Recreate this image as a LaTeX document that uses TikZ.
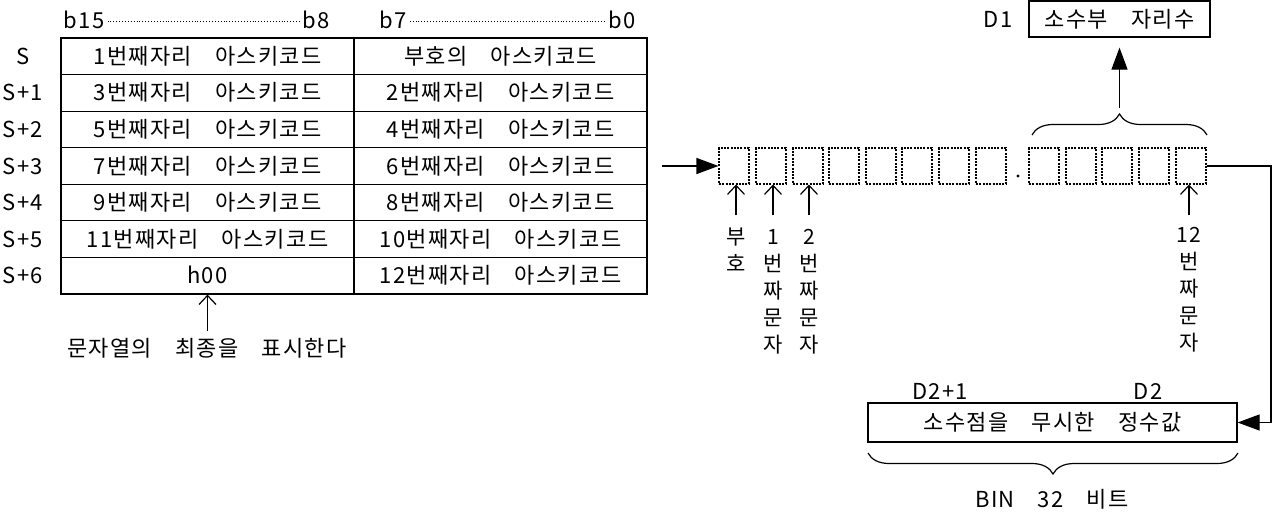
\documentclass[tikz,border=0pt]{standalone}
\usepackage{fontspec}
\setmainfont{Noto Sans CJK KR}[LetterSpace=6,WordSpace=3.7]
\usetikzlibrary{arrows.meta,decorations.pathreplacing}
\newcommand{\fsz}{\fontsize{22}{26}\selectfont}
\tikzset{
  cell/.style={draw, line width=1.2pt, minimum width=293pt, minimum height=36.57pt, inner sep=0pt, text height=17pt, text depth=1pt},
  dbox/.style={draw, dash pattern=on 2pt off 1.3pt, line width=1.1pt, minimum width=30pt, minimum height=36pt, inner sep=0pt},
  outbox/.style={draw, line width=1.2pt, inner sep=0pt, text height=17pt, text depth=1pt},
  big/.style={-{Triangle[length=22pt,width=16pt]}, line width=1.2pt},
  small/.style={-{Straight Barb[length=9pt,width=17pt]}, line width=1.2pt},
  lbl/.style={inner sep=0pt, anchor=base},
  vlbl/.style={align=center, inner sep=0pt, anchor=base, font=\fontsize{21}{27}\selectfont},
  dots/.style={line width=0.9pt, dash pattern=on 0.9pt off 2pt},
  brc/.style={decorate, line width=1.2pt, decoration={brace, amplitude=21pt}}
}
\begin{document}
\begin{tikzpicture}[x=1pt,y=-1pt, every node/.append style={font=\fsz}]
\useasboundingbox (0,0) rectangle (1274,512);
% header
\node[lbl] (hb15) at (84,28) {b15};
\node[lbl] (hb8) at (316,28) {b8};
\node[lbl] (hb7) at (393,28) {b7};
\node[lbl] (hb0) at (622,28) {b0};
\draw[dots] ([xshift=3pt]hb15.east |- 0,21) -- ([xshift=-3pt]hb8.west |- 0,21);
\draw[dots] ([xshift=3pt]hb7.east |- 0,21) -- ([xshift=-3pt]hb0.west |- 0,21);
% table
\foreach \i/\lt/\rt/\sl in {0/1번째자리 아스키코드/부호의 아스키코드/S,
  1/3번째자리 아스키코드/2번째자리 아스키코드/S+1,
  2/5번째자리 아스키코드/4번째자리 아스키코드/S+2,
  3/7번째자리 아스키코드/6번째자리 아스키코드/S+3,
  4/9번째자리 아스키코드/8번째자리 아스키코드/S+4,
  5/11번째자리 아스키코드/10번째자리 아스키코드/S+5,
  6/h00/12번째자리 아스키코드/S+6}{
  \node[cell] (l\i) at (207.5,{56.3+36.57*\i}) {\lt};
  \node[cell] (r\i) at (500.5,{56.3+36.57*\i}) {\rt};
  \node[lbl] (s\i) at (23,{64.3+36.57*\i}) {\sl};
}
\coordinate (endtip) at (207.5,331);
\draw[small] (endtip) -- (l6.south);
\node[lbl] (endtxt) at (207,356) {문자열의 최종을 표시한다};
% dotted boxes
\foreach \k/\x in {0/719,1/756,2/793,3/829,4/866,5/902,6/939,7/976,8/1029,9/1066,10/1102,11/1139,12/1176}{
  \node[dbox] (b\k) at ({\x+15},166) {};
}
\fill (1018,176) circle (1.7pt);
\coordinate (src) at (662,166);
\draw[big] (src) -- (b0.west);
% small arrows and labels
\foreach \k/\x in {0/736,1/773,2/809,12/1189}{
  \coordinate (a\k) at (\x,215);
  \draw[small] (a\k) -- (a\k |- b\k.south);
}
\node[vlbl] (t0) at (736,271) {부\\호};
\node[vlbl] (t1) at (773,352) {1\\번\\짜\\문\\자};
\node[vlbl] (t2) at (809,352) {2\\번\\짜\\문\\자};
\node[vlbl] (t12) at (1189,350) {12\\번\\짜\\문\\자};
% top brace and D1
\draw[brc] (1032,135) -- (1207,135);
\coordinate (ttip) at (1119.5,108);
\node[outbox, minimum width=181pt, minimum height=36pt] (d1) at (1119.5,19) {소수부 자리수};
\node[lbl] (d1l) at (998,27) {D1};
\draw[big] (ttip) -- ([yshift=-10pt]d1.south);
% D2 box
\node[outbox, minimum width=369pt, minimum height=39pt] (d2) at (1052.5,422.5) {소수점을 무시한 정수값};
\node[lbl] (d21) at (940,399) {D2+1};
\node[lbl] (d20) at (1148,399) {D2};
\coordinate (corner) at (1271,166);
\draw[big] (b12.east) -- (corner) |- (d2.east);
\draw[brc] (1238,453) -- (868,453);
\node[lbl] (bin) at (1052,507) {BIN 32 비트};
\end{tikzpicture}
\end{document}
